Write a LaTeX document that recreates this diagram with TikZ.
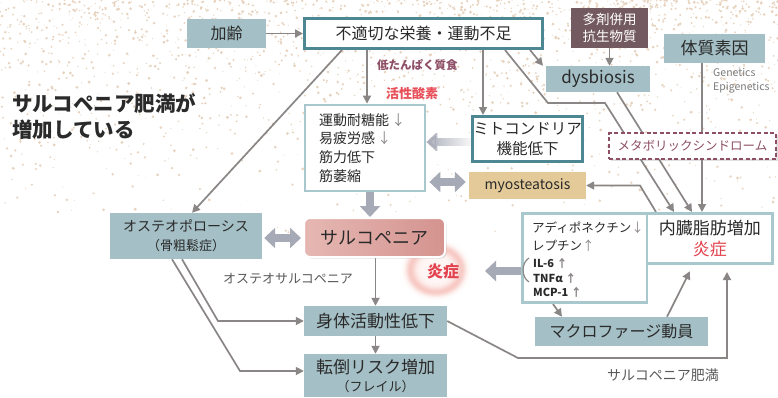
\documentclass[tikz,border=0pt]{standalone}
\usepackage{fontspec}
\setmainfont{Noto Sans CJK JP}
\usetikzlibrary{arrows.meta,calc,shadows,fadings}
\definecolor{tealfill}{HTML}{A4BFC5}
\definecolor{tealdark}{HTML}{4D8793}
\definecolor{teallight}{HTML}{A9C8CD}
\definecolor{mauvebox}{HTML}{735A60}
\definecolor{mauve}{HTML}{8E4F66}
\definecolor{redtxt}{HTML}{E2434E}
\definecolor{pinkred}{HTML}{E8505A}
\definecolor{mytan}{HTML}{E3CA98}
\definecolor{lgrey}{HTML}{8A8685}
\definecolor{bigar}{HTML}{A6A9B6}
\definecolor{txt}{HTML}{2A2A2A}
\definecolor{sarL}{HTML}{E6B8B3}
\definecolor{sarR}{HTML}{D4938F}
\definecolor{speck}{HTML}{E7D3BF}
\definecolor{gtxt}{HTML}{5A5A5A}
\definecolor{glowc}{HTML}{F08C80}
\newcommand\fsz[2]{\fontsize{#1}{#2}\selectfont}
\pgfdeclarelayer{speckle}
\pgfdeclarelayer{lines}
\pgfsetlayers{speckle,lines,main}
\begin{document}
\begin{tikzpicture}[x=1pt,y=-1pt,
  every node/.style={text=txt, inner sep=0pt, align=center},
  tbox/.style={fill=tealfill},
  wbox/.style={fill=white, draw=tealdark, line width=3pt},
  lbox/.style={fill=white, draw=teallight, line width=2.8pt},
  conn/.style={draw=lgrey, line width=1.7pt, -{Triangle[width=8pt,length=8pt]}},
  fat/.style={draw=bigar, line width=8pt, -{Triangle[width=20pt,length=11pt]}},
  fatboth/.style={draw=bigar, line width=8pt, {Triangle[width=20pt,length=11pt]}-{Triangle[width=20pt,length=11pt]}},
  shd/.style={drop shadow={shadow xshift=1.5pt, shadow yshift=-1.5pt, opacity=0.25}},
]
\useasboundingbox (0,0) rectangle (778,397);
\begin{pgfonlayer}{speckle}
\fill[white] (0,0) rectangle (778,397);
\pgfmathsetseed{42}
\foreach \i in {1,...,2000}{
  \fill[speck] (rnd*778, rnd*rnd*250) circle ({0.4+rnd*1.2});
}
\end{pgfonlayer}

% title
\node[anchor=west, font=\bfseries\fsz{20.5}{24}] (title1) at (12,104) {サルコペニア肥満が};
\node[anchor=west, font=\bfseries\fsz{20.5}{24}] (title2) at (12,130) {増加している};

% nodes
\node[tbox, minimum width=79pt, minimum height=29pt, font=\fsz{16}{19}] (kar) at (226.5,33.5) {加齢};
\node[wbox, minimum width=238pt, minimum height=30pt, font=\fsz{16}{19}] (fut) at (423.5,33.5) {不適切な栄養・運動不足};
\node[fill=mauvebox, text=white, minimum width=77pt, minimum height=40pt, font=\fsz{13.5}{17}] (taz) at (609.5,28) {多剤併用\\抗生物質};
\node[tbox, minimum width=104pt, minimum height=26pt, font=\fsz{17}{20}] (dys) at (598,79) {dysbiosis};
\node[tbox, minimum width=101pt, minimum height=29pt, font=\fsz{17}{20}] (tai) at (714.5,48.5) {体質素因};
\node[anchor=north west, align=left, text=gtxt!80, font=\fsz{10.5}{14}] (gen) at (713,68) {Genetics\\Epigenetics};
\node[fill=white, draw=mauve, line width=1.6pt, dash pattern=on 4pt off 2.5pt, minimum width=167pt, minimum height=26pt, font=\fsz{12.5}{15}, text=mauve, shd] (met) at (692.5,146) {メタボリックシンドローム};
\node[lbox, minimum width=120pt, minimum height=86pt, text width=92pt, align=left, font=\fsz{14}{18.7}] (unt) at (365,148) {運動耐糖能\,\textcolor{lgrey}{↓}\\易疲労感\,\textcolor{lgrey}{↓}\\筋力低下\\筋萎縮};
\node[wbox, minimum width=110pt, minimum height=45pt, font=\fsz{15.5}{20}, shd] (mit) at (527.5,139) {ミトコンドリア\\機能低下};
\node[fill=mytan, minimum width=117pt, minimum height=27pt, font=\fsz{14}{17}] (myo) at (527.5,185.5) {myosteatosis};
\node[rounded corners=6pt, draw=white, line width=2pt, left color=sarL, right color=sarR, minimum width=141pt, minimum height=39pt, font=\fsz{18}{21}, shd] (sar) at (374.5,237.5) {サルコペニア};
\node[tbox, minimum width=152pt, minimum height=46pt, font=\fsz{14}{19}] (ost) at (186,236) {オステオポローシス\\{\fsz{13}{19}（骨粗鬆症）}};
\node[tbox, minimum width=143pt, minimum height=30pt, font=\fsz{17}{20}] (shin) at (375.5,321) {身体活動性低下};
\node[tbox, minimum width=143pt, minimum height=43pt, font=\fsz{17}{18}] (ten) at (375.5,375.5) {転倒リスク増加\\{\fsz{13}{18}（フレイル）}};
\node[lbox, minimum width=124.6pt, minimum height=89.2pt] (cyt) at (584.7,258) {};
\node[lbox, minimum width=125.6pt, minimum height=50.2pt, font=\fsz{17}{21}] (nai) at (709.8,238.5) {内臓脂肪増加\\\textcolor{redtxt}{炎症}};
\node[tbox, minimum width=173pt, minimum height=29pt, font=\fsz{16}{19}] (mac) at (621.5,331.5) {マクロファージ動員};

% cytokine texts
\node[anchor=west, font=\fsz{12.5}{15}] (c1) at (532,228) {アディポネクチン\textcolor{lgrey}{↓}};
\node[anchor=west, font=\fsz{12.5}{15}] (c2) at (532,246) {レプチン\textcolor{lgrey}{↑}};
\node[anchor=west, font=\bfseries\fsz{11}{13}] (c3) at (533,263) {IL-6 \textcolor{lgrey}{↑}};
\node[anchor=west, font=\bfseries\fsz{11}{13}] (c4) at (533,278) {TNFα \textcolor{lgrey}{↑}};
\node[anchor=west, font=\bfseries\fsz{11}{13}] (c5) at (533,292) {MCP-1 \textcolor{lgrey}{↑}};
\draw[lgrey, line width=1.2pt] (529,258) .. controls (521,263) and (521,277) .. (529,282);

\node[font=\bfseries\fsz{16}{19}, text=redtxt] (enl) at (443,271) {炎症};

% labels
\node[text=mauve, font=\bfseries\fsz{11.5}{14}, anchor=west] (lowp) at (377,65) {低たんぱく質食};
\node[text=pinkred, font=\bfseries\fsz{13}{15}, anchor=west] (ros) at (386,94) {活性酸素};
\node[text=gtxt, font=\fsz{13}{15}, anchor=west] (osl) at (223,279) {オステオサルコペニア};
\node[text=gtxt, font=\fsz{14}{16}, anchor=west] (sol) at (607,375) {サルコペニア肥満};

% connectors
\begin{pgfonlayer}{lines}
% glow behind
\foreach \r in {38,37,...,8}{
  \pgfmathsetmacro\c{\r>26 ? 46*exp(-((\r-26)/5)^2) : 8+38*exp(-((\r-26)/5.5)^2)}
  \fill[glowc!\c!white] (436,270) ellipse ({\r} and {0.87*\r});
}
\draw[conn] (kar) -- (fut);
\draw[conn] (367,0 |- fut.south) -- (367,0 |- unt.north);
\draw[conn] (483,0 |- fut.south) -- (483,0 |- mit.north);
\draw[conn] (530,0 |- fut.south) -- (543,0 |- dys.north);
\draw[conn] (342,0 |- fut.south) -- (192,0 |- ost.north);
\draw[conn] (609.5,0 |- taz.south) -- (609.5,0 |- dys.north);
\draw[conn] (505,0 |- fut.south) -- (548,103) -- (605,103) -- (674,0 |- nai.north);
\draw[conn] (617,0 |- dys.south) -- (692,0 |- nai.north);
\draw[conn] (702,0 |- tai.south) -- (702,0 |- nai.north);
\draw[conn] (656,0 |- nai.north) -- (640,185.5) -- (myo.east);
\draw[conn] (553,0 |- cyt.south) -- (562,0 |- mac.north);
\draw[conn, shorten >=7pt] (667,0 |- mac.north) -- (693,0 |- nai.south);
\draw[conn, shorten >=7pt] (shin.east) -- (518,358) -- (727,358) -- (727,0 |- nai.south);
\draw[conn] (182,0 |- ost.south) -- (218,321) -- (shin.west);
\draw[conn] (172,0 |- ost.south) -- (240,371) -- (ten.west |- 0,371);
\draw[conn] (375.5,0 |- sar.south) -- (375.5,0 |- shin.north);
\draw[conn] (shin) -- (ten);
% fat arrows
\draw[fat] (370,0 |- unt.south) -- (370,0 |- sar.north);
\draw[fatboth, shorten <=2pt, shorten >=2pt] (ost.east |- 0,238) -- (sar.west |- 0,238);
\draw[fatboth, shorten <=3pt, shorten >=3pt] (unt.east |- 0,182) -- (myo.west |- 0,182);
\draw[fat] (cyt.west |- 0,271) -- (485,271);
\draw[fat, path fading=east] (mit.west |- 0,142) -- (unt.east |- 0,142);
\end{pgfonlayer}
\end{tikzpicture}
\end{document}
